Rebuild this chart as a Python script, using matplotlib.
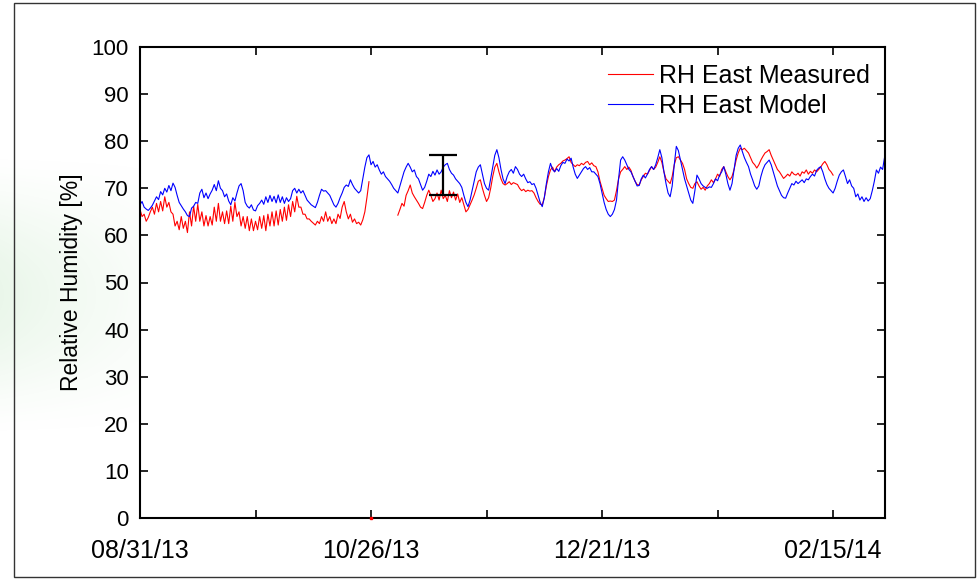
import numpy as np
import matplotlib
matplotlib.use("Agg")
import matplotlib.pyplot as plt
import matplotlib.dates as mdates
from matplotlib.patches import Rectangle

plt.rcParams['font.family'] = ['Liberation Sans', 'DejaVu Sans']

# ---------------- data ----------------
start_date = np.datetime64('2013-08-31T00:00')
step_hours = 12

# Model (blue), half-day samples from 08/31/13
rh_model = [
    66.5, 67.2, 66.0, 65.6, 65.3, 65.8, 66.4, 67.3, 68.2, 67.6,
    69.3, 68.6, 70.0, 69.2, 70.6, 69.5, 71.1, 70.2, 68.5, 67.0,
    66.3, 65.6, 65.0, 64.2, 64.0, 65.8, 66.2, 67.0, 66.8, 69.0,
    69.8, 68.0, 69.0, 67.8, 68.8, 69.6, 70.8, 69.5, 71.6, 70.0,
    69.5, 68.2, 68.8, 67.3, 66.5, 68.0, 67.3, 69.0, 70.5, 71.0,
    69.5, 67.0, 66.2, 65.8, 66.5, 65.4, 65.2, 66.3, 66.8, 67.5,
    66.6, 68.2, 67.0, 68.5, 67.2, 68.3, 66.9, 68.6, 67.0, 68.2,
    66.8, 68.0, 67.2, 67.8, 69.5, 70.0, 69.0, 69.8, 69.0, 69.5,
    68.5, 67.5, 67.0, 66.5, 66.2, 65.9, 67.0, 68.5, 69.8, 69.4,
    69.5, 69.0, 68.5, 67.5, 66.5, 66.0, 66.8, 68.0, 69.0, 70.2,
    70.7, 70.4, 71.8, 70.8, 70.0, 69.5, 69.0, 69.5, 72.0, 74.5,
    76.5, 77.1, 75.0, 75.7, 74.5, 75.0, 73.9, 73.0, 73.5, 72.5,
    72.0, 71.5, 70.8, 70.0, 69.5, 69.0, 70.5, 72.0, 73.5, 74.5,
    75.3, 74.5, 73.5, 73.9, 72.5, 72.0, 70.8, 69.6, 70.2, 71.5,
    73.0, 72.5, 73.6, 72.8, 73.9, 73.0, 73.5, 74.5, 75.0, 75.3,
    74.0, 73.2, 72.8, 72.0, 71.5, 71.0, 70.2, 68.5, 67.0, 66.1,
    67.5, 69.5, 71.5, 73.5, 74.5, 75.0, 73.0, 71.0, 70.0, 69.6,
    72.0, 74.5, 77.0, 78.2, 76.5, 74.0, 72.0, 71.0, 72.5, 73.5,
    74.0, 73.2, 74.6, 74.0, 73.0, 72.5, 73.0, 72.0, 71.2, 71.4,
    70.8, 71.0, 70.0, 68.5, 67.0, 66.1, 68.0, 71.0, 73.5, 75.3,
    74.0, 73.5, 74.2, 73.6, 74.8, 75.5, 75.3, 76.2, 75.8, 76.4,
    74.5, 73.0, 72.1, 72.8, 73.5, 74.2, 74.6, 74.0, 74.4, 73.5,
    73.5, 73.0, 72.5, 71.0, 69.0, 67.0, 65.5, 64.5, 64.0, 64.5,
    65.5, 67.5, 72.0, 76.0, 76.7, 76.0, 75.0, 74.0, 73.5, 72.5,
    71.5, 70.5, 70.6, 72.0, 72.8, 72.2, 73.0, 74.0, 74.6, 74.0,
    75.0, 76.5, 78.2, 76.5, 73.5, 71.0, 69.0, 68.2, 70.5, 75.0,
    78.9, 78.0, 76.0, 74.0, 72.0, 70.5, 69.0, 67.5, 66.8, 69.5,
    72.8, 72.0, 71.0, 70.5, 70.2, 70.0, 70.3, 70.2, 71.0, 72.0,
    71.6, 72.8, 73.5, 74.6, 73.0, 71.0, 69.6, 71.0, 74.0, 77.0,
    78.5, 79.2, 77.8, 76.5, 75.5, 74.6, 73.0, 71.8, 70.5, 69.8,
    70.5, 72.5, 74.0, 75.0, 75.5, 76.0, 75.0, 73.5, 72.0, 70.5,
    69.5, 68.5, 68.0, 67.9, 69.0, 70.0, 71.0, 70.7, 71.5, 71.0,
    71.4, 71.8, 71.2, 72.0, 71.8, 72.5, 73.0, 72.6, 73.8, 74.3,
    74.6, 73.5, 72.0, 70.8, 70.0, 69.5, 69.0, 70.0, 71.5, 72.8,
    73.5, 73.9, 72.5, 71.0, 71.8, 70.5, 70.0, 68.2, 68.8, 67.5,
    68.2, 67.2, 68.0, 67.3, 67.8, 69.5, 71.5, 73.9, 73.2, 74.5,
    74.0, 76.7,
]

# Measured (red), first segment, half-day samples from 08/31/13
rh_meas_seg1_start = np.datetime64('2013-08-31T00:00')
rh_meas_seg1 = [
    65.5, 64.0, 64.5, 63.0, 63.8, 65.0, 66.0, 64.5, 66.8, 65.0,
    67.2, 65.2, 68.2, 66.0, 67.0, 65.0, 64.5, 62.0, 63.0, 61.2,
    64.0, 61.5, 63.0, 60.6, 65.0, 62.0, 66.2, 63.0, 66.6, 63.0,
    65.0, 62.0, 64.2, 62.0, 64.0, 62.2, 66.0, 63.0, 66.8, 63.0,
    65.0, 62.5, 65.2, 62.5, 66.2, 63.0, 67.0, 64.0, 65.0, 62.0,
    64.0, 61.5, 64.0, 61.0, 63.5, 61.0, 63.0, 61.2, 64.0, 61.5,
    64.2, 61.0, 64.5, 62.0, 65.0, 62.0, 65.2, 62.2, 65.5, 63.0,
    66.0, 63.2, 66.5, 64.0, 67.2, 65.0, 68.3, 66.0, 66.0, 64.5,
    64.5, 63.5, 63.5, 63.0, 62.6, 62.2, 63.0, 62.5, 64.0, 63.0,
    65.0, 63.0, 64.0, 62.5, 63.5, 62.5, 64.5, 63.6, 66.0, 67.2,
    65.0, 63.5, 64.5, 62.8, 63.5, 62.5, 62.8, 62.2, 63.3, 65.0,
    68.0, 71.4,
]

# Measured (red), second segment, half-day samples from 11/01/13 12:00
rh_meas_seg2_start = np.datetime64('2013-11-01T12:00')
rh_meas_seg2 = [
    64.3, 65.5, 66.8, 66.2, 68.5, 69.5, 70.7, 69.0, 68.2, 67.5,
    66.8, 66.0, 65.7, 67.0, 68.5, 69.6, 68.5, 67.2, 67.8, 69.0,
    67.5, 69.6, 67.8, 68.5, 67.2, 69.5, 68.0, 69.2, 67.5, 68.8,
    67.0, 68.0, 66.5, 65.0, 65.5, 66.5, 67.5, 68.6, 70.0, 71.5,
    71.8, 70.0, 68.5, 67.2, 68.0, 70.0, 72.5, 74.5, 75.3, 73.5,
    72.0, 71.0, 70.7, 71.0, 71.4, 70.8, 71.2, 71.0, 70.8, 70.0,
    69.5, 69.8, 69.3, 69.6, 69.4, 69.5, 69.0, 68.0, 67.2, 66.6,
    66.5, 68.0, 70.5, 72.5, 73.9, 74.5, 73.5, 74.5, 75.0, 75.3,
    75.8, 76.0, 76.3, 76.7, 75.5, 75.0, 74.6, 75.0, 74.8, 75.3,
    75.0, 75.5, 75.7, 75.0, 75.4, 74.8, 74.6, 73.5, 71.5, 70.0,
    68.5, 67.8, 67.2, 67.3, 67.2, 67.5, 69.5, 72.0, 73.5, 74.0,
    74.6, 74.0, 74.5, 73.8, 72.5, 71.5, 70.8, 70.7, 71.8, 72.5,
    73.2, 73.0, 73.8, 74.6, 74.0, 74.5, 75.5, 76.7, 75.5, 73.5,
    72.0, 71.5, 71.0, 72.5, 75.0, 76.5, 76.7, 76.0, 75.3, 74.0,
    72.0, 71.0, 70.2, 70.0, 71.0, 71.4, 70.5, 69.8, 70.2, 69.6,
    70.5, 71.0, 71.8, 71.2, 72.0, 73.0, 72.5, 74.0, 74.6, 73.5,
    72.5, 71.8, 72.5, 74.0, 76.0, 77.5, 78.5, 78.2, 78.5, 78.0,
    77.5, 76.5, 75.5, 75.0, 74.3, 75.0, 76.0, 76.8, 77.5, 77.8,
    78.2, 77.0, 76.0, 75.0, 74.0, 73.5, 72.8, 72.1, 72.5, 73.0,
    72.6, 73.5, 73.0, 72.8, 73.2, 72.6, 73.5, 73.2, 73.9, 73.0,
    73.6, 73.2, 73.9, 73.5, 74.0, 74.5, 75.2, 75.7, 75.0, 74.0,
    73.5, 72.8,
]

# isolated measured sample at zero
rh_meas_outlier_date = np.datetime64('2013-10-26T00:00')
rh_meas_outlier_value = 0.0

# uncertainty bar
err_date = np.datetime64('2013-11-12T10:00')
err_low = 68.6
err_high = 77.1

# axes
x_start = np.datetime64('2013-08-31T00:00')
x_end = np.datetime64('2014-02-27T14:00')
x_tick_dates = ['2013-08-31', '2013-09-28', '2013-10-26', '2013-11-23',
                '2013-12-21', '2014-01-18', '2014-02-15']
x_tick_labels = ['08/31/13', '', '10/26/13', '', '12/21/13', '', '02/15/14']
y_ticks = [0, 10, 20, 30, 40, 50, 60, 70, 80, 90, 100]

series_labels = ['RH East Measured', 'RH East Model']
y_label = 'Relative Humidity [%]'

# ---------------- plot ----------------
def to_obj(d):
    return np.datetime64(d).astype('datetime64[ms]').astype(object)

def times(start, n):
    return (start + np.arange(n) * np.timedelta64(step_hours, 'h')).astype('datetime64[ms]').astype(object)

fig = plt.figure(figsize=(9.78, 5.8), dpi=100)

# faint green decoration on the left
bg = fig.add_axes([0, 0, 1, 1], zorder=-10)
bg.set_xlim(0, 978)
bg.set_ylim(580, 0)
bg.axis('off')
grad = np.zeros((60, 200, 4))
xs = np.linspace(0, 1, 200)
ys = np.linspace(0, 1, 60)
alpha = np.outer(np.sin(np.pi * ys) ** 1.5, np.clip(1 - xs, 0, 1) ** 1.2) * 0.18
grad[..., 0] = 0.55
grad[..., 1] = 0.82
grad[..., 2] = 0.55
grad[..., 3] = alpha
bg.imshow(grad, extent=(0, 220, 440, 150), aspect='auto', interpolation='bilinear')
# outer frame
bg.add_patch(Rectangle((14, 3), 961, 574, fill=False, edgecolor='#333333', lw=1.0))

ax = fig.add_axes([140 / 978, 1 - 518 / 580, (885 - 140) / 978, (518 - 47) / 580])
ax.set_facecolor('white')

l1, = ax.plot(times(rh_meas_seg1_start, len(rh_meas_seg1)), rh_meas_seg1,
              color='#ff0000', lw=0.8)
ax.plot(times(rh_meas_seg2_start, len(rh_meas_seg2)), rh_meas_seg2,
        color='#ff0000', lw=0.8)
ax.plot([to_obj(rh_meas_outlier_date)], [rh_meas_outlier_value],
        marker='s', ms=2.0, color='#ff0000', lw=0, clip_on=False, zorder=5)
l2, = ax.plot(times(start_date, len(rh_model)), rh_model, color='#0000ff', lw=0.8)

ax.errorbar([to_obj(err_date)], [(err_low + err_high) / 2], yerr=[(err_high - err_low) / 2],
            color='black', lw=1.6, capsize=10, capthick=1.6, zorder=6)

ax.set_xlim(to_obj(x_start), to_obj(x_end))
ax.set_ylim(0, 100)
ax.set_xticks([to_obj(d) for d in x_tick_dates])
ax.set_xticklabels(x_tick_labels)
ax.set_yticks(y_ticks)
ax.tick_params(axis='both', direction='in', length=6, width=1.2,
               top=True, right=True, colors='black')
ax.tick_params(axis='y', labelsize=16, pad=8)
ax.tick_params(axis='x', labelsize=18, pad=15)
ax.set_ylabel(y_label, fontsize=16.5, labelpad=6)
for s in ax.spines.values():
    s.set_linewidth(1.5)

leg = ax.legend([l1, l2], series_labels, loc='upper right', frameon=False,
                fontsize=18, handlelength=1.8, handletextpad=0.25, labelspacing=0.25,
                bbox_to_anchor=(1.0, 0.996), borderaxespad=0.2)

fig.savefig('out.png', dpi=100)
